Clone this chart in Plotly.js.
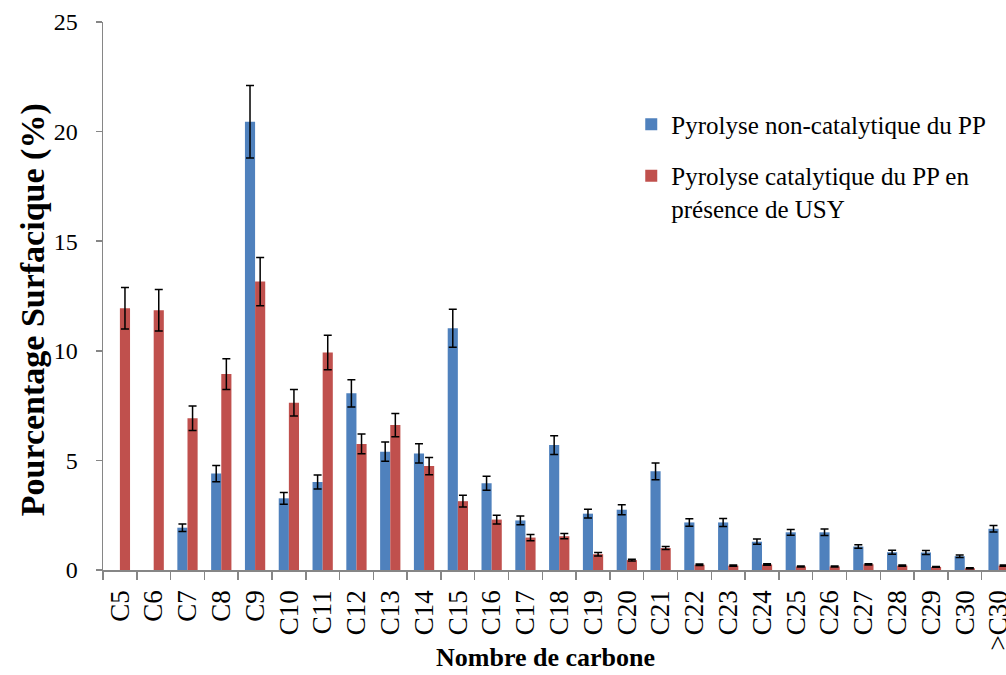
<!DOCTYPE html>
<html>
<head>
<meta charset="utf-8">
<script src="https://cdn.plot.ly/plotly-3.0.1.min.js"></script>
<style>html,body{margin:0;padding:0;background:#fff;}#chart{width:1006px;height:675px;}</style>
</head>
<body>
<div id="chart"></div>
<script>
const categories = ["C5","C6","C7","C8","C9","C10","C11","C12","C13","C14","C15","C16","C17","C18","C19","C20","C21","C22","C23","C24","C25","C26","C27","C28","C29","C30",">C30"];
const nonCatalytic = [null,null,1.93,4.4,20.45,3.27,4.01,8.06,5.4,5.32,11.03,3.96,2.26,5.7,2.57,2.75,4.5,2.17,2.17,1.29,1.72,1.72,1.07,0.81,0.8,0.63,1.88];
const nonCatalyticErr = [null,null,0.17,0.37,1.65,0.27,0.32,0.62,0.44,0.44,0.87,0.32,0.2,0.43,0.2,0.23,0.38,0.17,0.18,0.12,0.13,0.15,0.08,0.09,0.09,0.06,0.15];
const catalytic = [11.94,11.85,6.92,8.94,13.16,7.63,9.92,5.75,6.61,4.74,3.14,2.3,1.48,1.54,0.72,0.45,1.0,0.24,0.2,0.25,0.16,0.16,0.26,0.2,0.14,0.08,0.2];
const catalyticErr = [0.95,0.95,0.56,0.7,1.1,0.61,0.79,0.45,0.53,0.39,0.27,0.2,0.14,0.12,0.08,0.04,0.07,0.03,0.03,0.03,0.02,0.02,0.03,0.03,0.02,0.02,0.03];
const seriesNames = ["Pyrolyse non-catalytique du PP", "Pyrolyse catalytique du PP en<br>présence de USY"];
const xTitle = "Nombre de carbone";
const yTitle = "Pourcentage Surfacique (%)";

const font = "'Liberation Serif', 'Times New Roman', Times, serif";
const errStyle = {type:"data", visible:true, color:"#000", thickness:1.5, width:4};

const traces = [
  {type:"bar", x:categories, y:nonCatalytic, name:seriesNames[0], legendgroup:"a",
   marker:{color:"#4F81BD"}, error_y:Object.assign({array:nonCatalyticErr}, errStyle)},
  {type:"bar", x:categories, y:catalytic, name:seriesNames[1], legendgroup:"b",
   marker:{color:"#C0504D"}, error_y:Object.assign({array:catalyticErr}, errStyle)}
];

const layout = {
  width:1006, height:675,
  margin:{l:103, r:0, t:22, b:105},
  paper_bgcolor:"#fff", plot_bgcolor:"#fff",
  barmode:"group", bargap:0.4, bargroupgap:0,
  font:{family:font, color:"#000"},
  xaxis:{type:"category", range:[-0.5, 26.22], showline:true, linecolor:"#868686", linewidth:1.5,
    ticks:"outside", tickson:"boundaries", ticklen:8, tickcolor:"#868686", tickwidth:1.5,
    ticklabelstandoff:8,
    tickangle:-90, tickfont:{family:font, size:27, color:"#000"}, showgrid:false, zeroline:false},
  yaxis:{range:[0,25], dtick:5, showline:true, linecolor:"#868686", linewidth:1.5,
    ticks:"outside", ticklen:6, tickcolor:"#868686", tickwidth:1.5, showgrid:false, zeroline:false,
    ticklabelstandoff:13, tickfont:{family:font, size:24, color:"#000"}},
  annotations:[
    {text:"<b>"+xTitle+"</b>", xref:"paper", yref:"paper", x:0.4895, y:-0.16, xanchor:"center", yanchor:"middle",
     showarrow:false, font:{family:font, size:26, color:"#000"}},
    {text:"<b>"+yTitle+"</b>", xref:"paper", yref:"paper", x:-0.0775, y:0.474, xanchor:"center", yanchor:"middle",
     textangle:-90, showarrow:false, font:{family:font, size:34, color:"#000"}}
  ],
  legend:{x:0.585, y:0.855, xanchor:"left", yanchor:"top", font:{family:font, size:25, color:"#000"},
    tracegroupgap:16, valign:"top", bgcolor:"rgba(0,0,0,0)"},
  showlegend:true
};

Plotly.newPlot("chart", traces, layout, {displayModeBar:false, staticPlot:true});
</script>
</body>
</html>
